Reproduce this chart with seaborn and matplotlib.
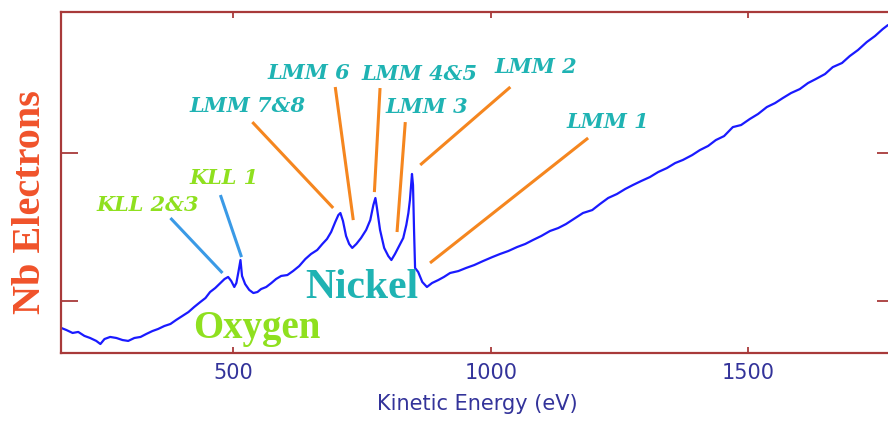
import numpy as np
import pandas as pd
import matplotlib
matplotlib.use("Agg")
import matplotlib.pyplot as plt
import seaborn as sns

# Auger spectrum of oxidised nickel
energy_ev = [166, 176, 188, 199, 211, 222, 234, 242, 250, 261, 273, 285, 296, 308, 320,
             331, 343, 354, 366, 378, 389, 401, 413, 424, 436, 446, 455, 465, 475, 483,
             490, 496, 502, 506, 510, 514, 517, 523, 531, 539, 547, 554, 564, 574, 583,
             593, 605, 616, 628, 640, 651, 663, 673, 682, 690, 698, 704, 708, 713, 719,
             725, 731, 739, 748, 758, 766, 772, 776, 779, 785, 793, 801, 807, 814, 822,
             830, 836, 840, 843, 847, 849, 851, 853, 859, 867, 876, 886, 898, 909, 921,
             937, 952, 968, 985, 1003, 1018, 1034, 1051, 1067, 1082, 1098, 1115, 1131,
             1146, 1164, 1179, 1197, 1212, 1228, 1245, 1261, 1276, 1292, 1309, 1325,
             1342, 1358, 1373, 1391, 1406, 1422, 1437, 1453, 1470, 1486, 1503, 1519,
             1536, 1552, 1567, 1583, 1600, 1616, 1631, 1649, 1664, 1682, 1697, 1713,
             1730, 1746, 1761, 1771]
intensity = [0.815, 0.801, 0.781, 0.788, 0.761, 0.747, 0.727, 0.706, 0.740, 0.754, 0.747,
             0.733, 0.727, 0.747, 0.754, 0.774, 0.794, 0.808, 0.828, 0.842, 0.869, 0.896,
             0.923, 0.957, 0.991, 1.018, 1.059, 1.086, 1.120, 1.147, 1.161, 1.134, 1.093,
             1.120, 1.195, 1.276, 1.168, 1.113, 1.073, 1.052, 1.059, 1.079, 1.093, 1.120,
             1.147, 1.168, 1.174, 1.201, 1.235, 1.283, 1.317, 1.344, 1.385, 1.419, 1.466,
             1.534, 1.581, 1.595, 1.541, 1.439, 1.385, 1.358, 1.385, 1.425, 1.480, 1.547,
             1.649, 1.697, 1.629, 1.480, 1.358, 1.303, 1.276, 1.317, 1.371, 1.425, 1.514,
             1.595, 1.683, 1.860, 1.785, 1.480, 1.222, 1.195, 1.127, 1.093, 1.120, 1.140,
             1.161, 1.188, 1.201, 1.222, 1.242, 1.269, 1.296, 1.317, 1.337, 1.364, 1.385,
             1.412, 1.439, 1.473, 1.493, 1.520, 1.561, 1.595, 1.615, 1.656, 1.697, 1.724,
             1.758, 1.785, 1.812, 1.839, 1.873, 1.900, 1.934, 1.955, 1.988, 2.022, 2.050,
             2.090, 2.117, 2.178, 2.192, 2.233, 2.267, 2.314, 2.341, 2.375, 2.409, 2.436,
             2.477, 2.504, 2.538, 2.585, 2.613, 2.660, 2.701, 2.755, 2.796, 2.843, 2.870]

# peak labels: text, label position, leader line start/end, element
peak_names = ["KLL 2&3", "KLL 1", "LMM 7&8", "LMM 6", "LMM 4&5", "LMM 3", "LMM 2", "LMM 1"]
peak_element = ["O", "O", "Ni", "Ni", "Ni", "Ni", "Ni", "Ni"]
label_x = [333, 483, 527, 646, 861, 875, 1088, 1228]
label_y = [1.649, 1.832, 2.321, 2.545, 2.538, 2.314, 2.585, 2.212]
line_x0 = [378, 475, 537, 698, 785, 834, 1038, 1189]
line_y0 = [1.561, 1.717, 2.212, 2.450, 2.443, 2.212, 2.450, 2.104]
line_x1 = [479, 516, 694, 733, 774, 818, 863, 882]
line_y1 = [1.188, 1.296, 1.629, 1.547, 1.737, 1.466, 1.921, 1.256]

x_ticks = [500, 1000, 1500]
y_ticks = [1, 2]

spine_col = "#a83a3a"
tick_col = "#33339a"
ni_col = "#1fb3b3"
o_col = "#8fe01f"
ni_line = "#f5861f"
o_line = "#3a9ae6"

sns.set_style("white")
plt.rcParams['font.family'] = ['DejaVu Sans']

df = pd.DataFrame({"Kinetic Energy (eV)": energy_ev, "Nb Electrons": intensity})

fig = plt.figure(figsize=(8.88, 4.21), dpi=100)
ax = fig.add_axes([0.0684, 0.1608, 0.9384, 0.8114])
sns.lineplot(data=df, x="Kinetic Energy (eV)", y="Nb Electrons", ax=ax,
             color="#1a1aff", linewidth=1.6)

# leader lines and peak names
for i in range(len(peak_names)):
    lc = o_line if peak_element[i] == "O" else ni_line
    tc = o_col if peak_element[i] == "O" else ni_col
    ax.plot([line_x0[i], line_x1[i]], [line_y0[i], line_y1[i]], color=lc, linewidth=2.2,
            solid_capstyle="butt")
    ax.text(label_x[i], label_y[i], peak_names[i], color=tc, fontsize=15,
            family="DejaVu Serif", weight="bold", style="italic", ha="center", va="center")

ax.text(545, 0.747, "Oxygen", color=o_col, fontsize=28, family="Liberation Serif",
        weight="bold", ha="center", va="baseline")
ax.text(750, 1.018, "Nickel", color=ni_col, fontsize=30, family="Liberation Serif",
        weight="bold", ha="center", va="baseline")

ax.set_xlim(165, 1783)
ax.set_ylim(0.643, 2.961)
ax.set_xticks(x_ticks)
ax.set_yticks(y_ticks)
ax.set_yticklabels([])
ax.tick_params(axis="x", direction="in", length=4, width=1.3, color=spine_col,
               labelcolor=tick_col, labelsize=15, pad=7, top=True, bottom=True)
ax.tick_params(axis="y", direction="in", length=12, width=1.3, color=spine_col,
               left=True, right=True)
for s in ax.spines.values():
    s.set_color(spine_col)
    s.set_linewidth(1.6)

ax.set_xlabel("Kinetic Energy (eV)", color=tick_col, fontsize=15, labelpad=8)
ax.set_ylabel("Nb Electrons", color="#f0522a", fontsize=29, family="Liberation Serif",
              weight="bold")
ax.yaxis.label.set_va("center")
ax.yaxis.set_label_coords(-0.0368, 0.443)

fig.savefig("out.png", dpi=100)
